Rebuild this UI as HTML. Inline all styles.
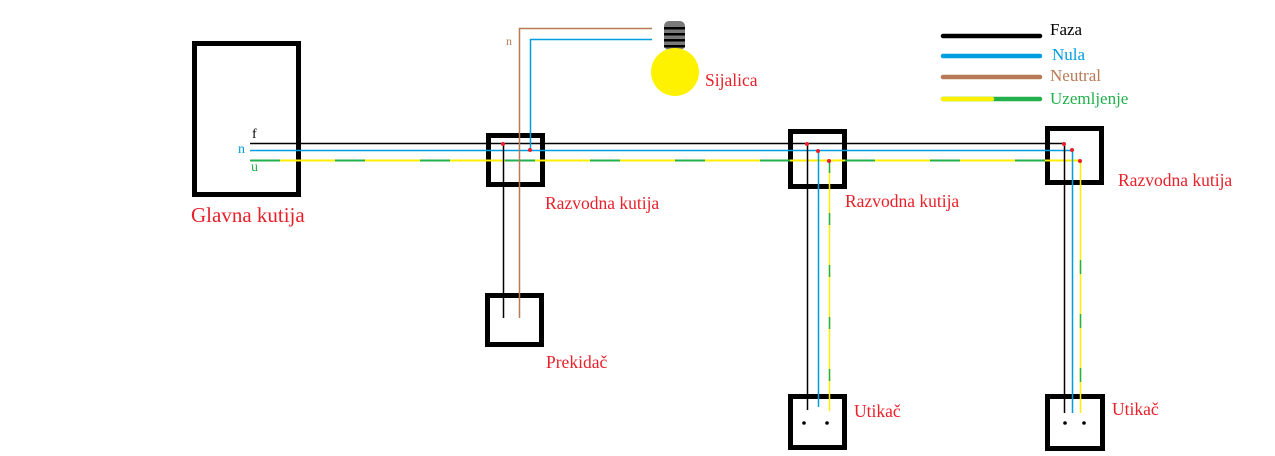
<!DOCTYPE html>
<html><head><meta charset="utf-8"><style>
html,body{margin:0;padding:0;background:#fff;}
svg{display:block;}
text{font-family:"Liberation Serif",serif;}
</style></head><body>
<svg width="1275" height="456" viewBox="0 0 1275 456" xmlns="http://www.w3.org/2000/svg">
<g fill="none" stroke="#000" stroke-width="5">
<rect x="194.5" y="43.5" width="104" height="151"/>
<rect x="488.5" y="135.5" width="54" height="49"/>
<rect x="790.5" y="131.5" width="54" height="55"/>
<rect x="1047.5" y="128.5" width="54" height="54"/>
<rect x="487.5" y="295.5" width="54" height="49"/>
<rect x="790.5" y="396.5" width="54" height="51"/>
<rect x="1047.5" y="396.5" width="55" height="52"/>
</g>
<line x1="250" y1="143.5" x2="1064" y2="143.5" stroke="#000" stroke-width="1.5"/>
<line x1="250" y1="150.5" x2="1072" y2="150.5" stroke="#009ee0" stroke-width="1.5"/>
<line x1="250" y1="160.5" x2="1080" y2="160.5" stroke="#ffee00" stroke-width="2"/>
<line x1="250" y1="160.5" x2="1080" y2="160.5" stroke="#22b04c" stroke-width="2" stroke-dasharray="30 55"/>
<line x1="503.5" y1="144" x2="503.5" y2="318" stroke="#000" stroke-width="1.5"/>
<polyline points="519.5,318 519.5,28.5 652,28.5" fill="none" stroke="#b87a56" stroke-width="1.5"/>
<polyline points="530.5,150 530.5,39.5 652,39.5" fill="none" stroke="#009ee0" stroke-width="1.5"/>
<line x1="807.5" y1="144" x2="807.5" y2="410" stroke="#000" stroke-width="1.5"/>
<line x1="818.5" y1="151" x2="818.5" y2="407" stroke="#009ee0" stroke-width="1.5"/>
<line x1="829.5" y1="161" x2="829.5" y2="411" stroke="#ffee00" stroke-width="1.5"/>
<line x1="829.5" y1="161" x2="829.5" y2="411" stroke="#22b04c" stroke-width="1.5" stroke-dasharray="12 40"/>
<line x1="1064.5" y1="144" x2="1064.5" y2="413" stroke="#000" stroke-width="1.5"/>
<line x1="1072.5" y1="150" x2="1072.5" y2="413" stroke="#009ee0" stroke-width="1.5"/>
<line x1="1080.5" y1="161" x2="1080.5" y2="413" stroke="#ffee00" stroke-width="1.5"/>
<line x1="1080.5" y1="260" x2="1080.5" y2="413" stroke="#22b04c" stroke-width="1.5" stroke-dasharray="14 40"/>
<g fill="#e8202a">
<circle cx="503" cy="144" r="2"/><circle cx="530" cy="150" r="2"/>
<circle cx="807" cy="144" r="2"/><circle cx="818" cy="151" r="2"/><circle cx="829" cy="161" r="2"/>
<circle cx="1064" cy="144" r="2"/><circle cx="1072" cy="150" r="2"/><circle cx="1080" cy="161" r="2"/>
</g>
<g fill="#000">
<circle cx="804" cy="423" r="1.8"/><circle cx="827" cy="423" r="1.8"/>
<circle cx="1065" cy="423" r="1.8"/><circle cx="1084" cy="423" r="1.8"/>
</g>
<rect x="664" y="21" width="21" height="29" rx="5" fill="#7a7a7a"/>
<g fill="#000"><rect x="664" y="27" width="21" height="2.5"/><rect x="664" y="33" width="21" height="2.5"/><rect x="664" y="39" width="21" height="2.5"/><rect x="664" y="45" width="21" height="2.5"/></g>
<circle cx="675" cy="72" r="24" fill="#fff200"/>
<g stroke-linecap="round" stroke-width="4.5">
<line x1="943" y1="36" x2="1040" y2="36" stroke="#000"/>
<line x1="943" y1="56" x2="1040" y2="56" stroke="#009ee0"/>
<line x1="943" y1="77" x2="1040" y2="77" stroke="#b87a56"/>
<line x1="943" y1="99" x2="1040" y2="99" stroke="#22b04c"/>
<line x1="943" y1="99" x2="992" y2="99" stroke="#fff200"/>
</g>
<g font-size="17">
<text x="1050" y="35" fill="#000">Faza</text>
<text x="1052" y="60" fill="#009ee0">Nula</text>
<text x="1050" y="81" fill="#b87a56">Neutral</text>
<text x="1050" y="104" fill="#22b04c">Uzemljenje</text>
</g>
<text x="252" y="138" font-size="14" fill="#000">f</text>
<text x="238" y="153" font-size="14" fill="#009ee0">n</text>
<text x="251" y="171" font-size="14" fill="#22b04c">u</text>
<text x="506" y="45" font-size="12" fill="#b87a56">n</text>
<g fill="#e8202a">
<text x="191" y="222" font-size="21">Glavna kutija</text>
<text x="545" y="209" font-size="17.5">Razvodna kutija</text>
<text x="845" y="207" font-size="17.5">Razvodna kutija</text>
<text x="1118" y="186" font-size="17.5">Razvodna kutija</text>
<text x="546" y="368" font-size="17.5">Prekidač</text>
<text x="705" y="86" font-size="17.5">Sijalica</text>
<text x="854" y="417" font-size="17.5">Utikač</text>
<text x="1112" y="415" font-size="17.5">Utikač</text>
</g>
</svg>
</body></html>
